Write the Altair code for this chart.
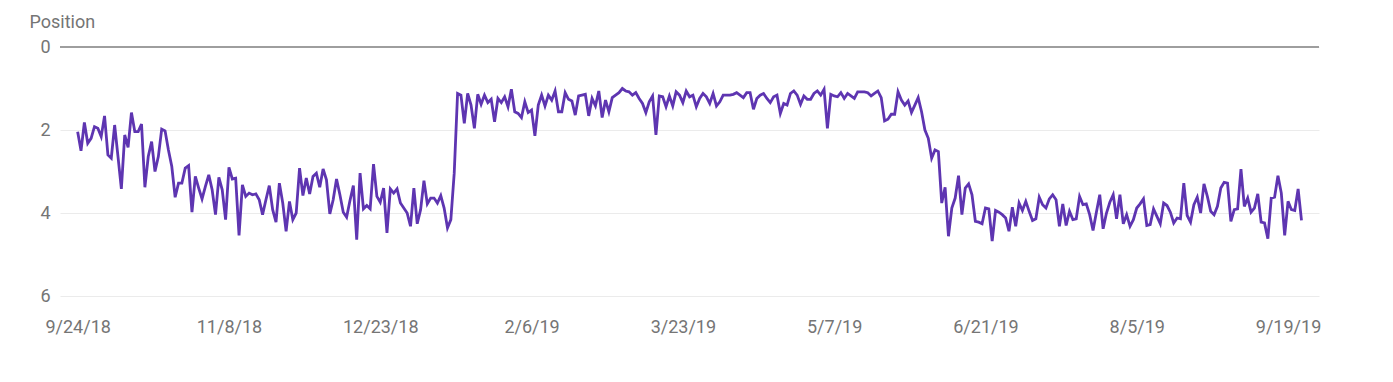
import altair as alt
import pandas as pd

# ---- data ----
start_date = "2018-09-24"

positions_oct_nov = [2.04, 2.50, 1.82, 2.32, 2.2, 1.92, 1.96, 2.16, 1.66, 2.6, 2.68, 1.88, 2.64, 3.42, 2.12, 2.42,
                     1.58, 2.04, 2.04, 1.86, 3.38, 2.64, 2.28, 3.0, 2.64, 1.98, 2.02, 2.48, 2.88, 3.62, 3.28, 3.28,
                     2.92, 2.86, 3.98, 3.12, 3.4, 3.66, 3.36, 3.08, 3.44, 4.04, 3.14, 3.44, 4.16, 2.9]
positions_nov_dec = [3.18, 3.16, 4.54, 3.32, 3.6, 3.52, 3.56, 3.54, 3.68, 4.04, 3.68, 3.34, 3.92, 4.22, 3.28, 3.76,
                     4.44, 3.72, 4.16, 4.0, 2.92, 3.58, 3.16, 3.54, 3.12, 3.04, 3.38, 2.94, 3.2, 4.02, 3.68, 3.18,
                     3.56, 3.98, 4.1, 3.7, 3.34, 4.64, 3.04, 3.9, 3.82, 3.9, 2.82, 3.6, 3.74, 3.4, 4.48]
positions_dec_feb = [3.42, 3.52, 3.42, 3.76, 3.88, 4.0, 4.32, 3.4, 4.26, 3.92, 3.22, 3.78, 3.64, 3.64, 3.76, 3.58,
                     3.88, 4.36, 4.16, 3.04, 1.12, 1.16, 1.84, 1.12, 1.4, 1.96, 1.14, 1.38, 1.16, 1.34, 1.26, 1.8,
                     1.24, 1.34, 1.2, 1.44, 1.02, 1.56, 1.6, 1.7, 1.32, 1.58, 1.52, 2.14, 1.4, 1.16]
positions_feb_mar = [1.42, 1.16, 1.28, 1.06, 1.56, 1.56, 1.1, 1.26, 1.3, 1.64, 1.18, 1.16, 1.14, 1.66, 1.24, 1.42,
                     1.06, 1.7, 1.28, 1.56, 1.22, 1.16, 1.1, 1.0, 1.06, 1.08, 1.16, 1.1, 1.24, 1.36, 1.58, 1.32,
                     1.18, 2.12, 1.18, 1.2, 1.44, 1.18, 1.42, 1.08, 1.16, 1.34, 1.06, 1.2, 1.16]
positions_mar_may = [1.44, 1.24, 1.12, 1.2, 1.36, 1.12, 1.42, 1.32, 1.16, 1.16, 1.16, 1.14, 1.1, 1.16, 1.22, 1.1,
                     1.1, 1.5, 1.24, 1.16, 1.12, 1.24, 1.34, 1.2, 1.16, 1.6, 1.36, 1.4, 1.12, 1.06, 1.16, 1.38,
                     1.18, 1.26, 1.26, 1.12, 1.06, 1.16, 1.02, 1.96, 1.14, 1.18, 1.2, 1.1, 1.24, 1.12]
positions_may_jun = [1.18, 1.24, 1.08, 1.08, 1.08, 1.1, 1.18, 1.12, 1.06, 1.22, 1.78, 1.74, 1.62, 1.62, 1.08, 1.28,
                     1.4, 1.3, 1.58, 1.4, 1.22, 1.56, 2.0, 2.2, 2.68, 2.48, 2.52, 3.76, 3.38, 4.56, 3.88, 3.64,
                     3.1, 4.04, 3.4, 3.3, 3.56, 4.2, 4.22, 4.26, 3.88, 3.9, 4.68, 3.94, 3.98, 4.04, 4.12]
positions_jun_aug = [4.44, 3.86, 4.32, 3.76, 3.94, 3.72, 3.96, 4.18, 4.14, 3.62, 3.8, 3.88, 3.66, 3.56, 3.68, 4.32,
                     3.78, 4.3, 3.96, 4.16, 4.14, 3.6, 3.8, 3.78, 4.04, 4.42, 3.98, 3.56, 4.38, 4.0, 3.74, 3.56,
                     4.14, 3.56, 4.26, 4.04, 4.32, 4.16, 3.88, 3.78, 3.66, 4.3, 4.28, 3.9, 4.08, 4.26]
positions_aug_sep = [3.76, 3.82, 3.98, 4.24, 4.12, 4.14, 3.28, 4.06, 4.22, 3.8, 3.62, 4.0, 3.3, 3.6, 3.96, 4.04,
                     3.84, 3.4, 3.26, 3.28, 4.2, 3.92, 3.9, 2.94, 3.84, 3.64, 3.98, 3.88, 3.54, 4.22, 4.24, 4.62,
                     3.64, 3.62, 3.1, 3.52, 4.54, 3.72, 3.92, 3.94, 3.42, 4.18]

x_tick_dates = ["2018-09-24", "2018-11-08", "2018-12-23", "2019-02-06", "2019-03-23",
                "2019-05-07", "2019-06-21", "2019-08-05", "2019-09-19"]
x_domain = ["2018-09-18T18:00:00", "2019-09-28T05:00:00"]
y_ticks = [0, 2, 4, 6]
y_domain = [0, 6]
baseline_value = [0]

# ---- build table ----
positions = (positions_oct_nov + positions_nov_dec + positions_dec_feb + positions_feb_mar +
             positions_mar_may + positions_may_jun + positions_jun_aug + positions_aug_sep)
dates = pd.date_range(start_date, periods=len(positions), freq="D")
df = pd.DataFrame({"date": dates.strftime("%Y-%m-%d"), "position": positions})


def to_dt(s):
    t = pd.Timestamp(s)
    return alt.DateTime(year=t.year, month=t.month, date=t.day,
                        hours=t.hour, minutes=t.minute, utc=True)


FONT = "Roboto"
TEXT_COLOR = "#757575"

x_scale = alt.Scale(type="utc", domain=[to_dt(d) for d in x_domain])
x_axis = alt.Axis(values=[to_dt(d) for d in x_tick_dates], format="%-m/%-d/%y",
                  grid=False, domain=False, ticks=False, tickSize=0, labelPadding=22,
                  labelFont=FONT, labelFontSize=18, labelColor=TEXT_COLOR,
                  labelFlush=False, labelOverlap=False, title=None)

y_scale = alt.Scale(domain=y_domain, reverse=True, nice=False, zero=False)
y_axis = alt.Axis(values=y_ticks, grid=True, gridColor="#ebebeb", gridWidth=1,
                  domain=False, ticks=False, tickSize=0, labelPadding=10,
                  labelFont=FONT, labelFontSize=18, labelColor=TEXT_COLOR,
                  title="Position", titleAngle=0, titleAlign="left",
                  titleBaseline="alphabetic", titleX=-31, titleY=-20,
                  titleFont=FONT, titleFontSize=18, titleFontWeight="normal",
                  titleColor=TEXT_COLOR)

line = alt.Chart(df).mark_line(color="#5e35b1", strokeWidth=2.8, interpolate="linear").encode(
    x=alt.X("date:T", scale=x_scale, axis=x_axis),
    y=alt.Y("position:Q", scale=y_scale, axis=y_axis),
)

zero_rule = alt.Chart(pd.DataFrame({"position": baseline_value})).mark_rule(
    color="#9e9e9e", strokeWidth=2
).encode(
    y=alt.Y("position:Q", scale=y_scale, axis=y_axis),
)

chart = alt.layer(zero_rule, line).properties(
    width=1259, height=249,
    padding={"left": 52, "top": 39, "right": 40, "bottom": 50},
    autosize=alt.AutoSizeParams(type="none"),
    background="white",
).configure_view(stroke=None)

chart.save("out.html", embed_options={"renderer": "svg", "actions": False})
